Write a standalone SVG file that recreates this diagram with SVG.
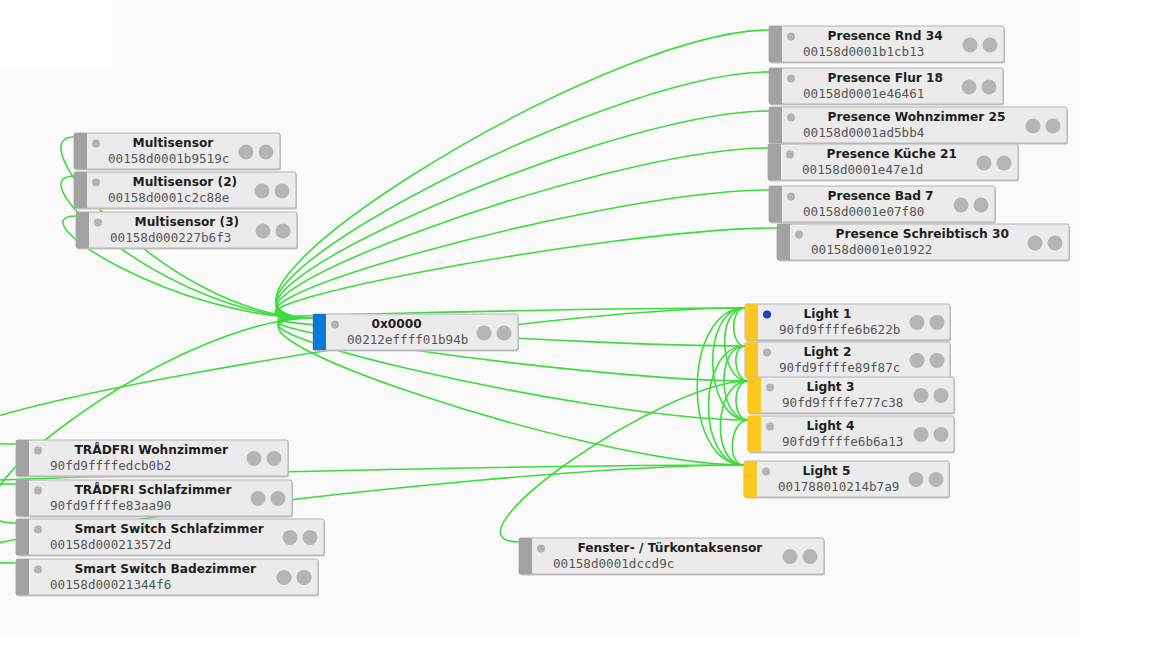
<svg xmlns="http://www.w3.org/2000/svg" width="1152" height="648" viewBox="0 0 1152 648">
<style>
.bg{fill:#fafafa}
.edge{fill:none;stroke:#3cdc3c;stroke-width:1.6}
.shadow{fill:#c4c4c4}
.box{fill:#ebebeb;stroke:#b4b4b4;stroke-width:1}
.bar{fill:#a2a2a2}
.bar.coord{fill:#0b79d6}
.bar.light{fill:#fcc81e}
.pin{fill:#b3b3b3}
.pin.on{fill:#1b3fcc}
.port{fill:#b5b5b5}
.name{font-family:"DejaVu Sans",Verdana,sans-serif;font-weight:bold;font-size:12.2px;fill:#1e1e1e}
.id{font-family:"DejaVu Sans Mono",monospace;font-size:12.6px;fill:#555}
</style>
<rect x="0" y="0" width="1152" height="648" fill="#ffffff"/>
<rect class="bg" x="0" y="0" width="1080" height="638"/>
<rect x="0" y="0" width="112" height="67" fill="#ffffff"/>
<g id="connectors">
<path class="edge" d="M 74 137 C 14 137, 173 318, 313 318"/>
<path class="edge" d="M 74 176 C 14 176, 173 318, 313 318"/>
<path class="edge" d="M 76 216 C 16 216, 173 318, 313 318"/>
<path class="edge" d="M 313 318 C 144 318, 600 30, 769 30"/>
<path class="edge" d="M 313 318 C 144 318, 600 72, 769 72"/>
<path class="edge" d="M 313 318 C 144 318, 600 111, 769 111"/>
<path class="edge" d="M 313 318 C 145 318, 600 148, 768 148"/>
<path class="edge" d="M 313 318 C 144 318, 600 190, 769 190"/>
<path class="edge" d="M 313 318 C 141 318, 605 228, 777 228"/>
<path class="edge" d="M 313 318 C 153 318, 585 308, 745 308"/>
<path class="edge" d="M 313 318 C 153 318, 585 346, 745 346"/>
<path class="edge" d="M 313 318 C 152 318, 587 381, 748 381"/>
<path class="edge" d="M 313 318 C 152 318, 587 420, 748 420"/>
<path class="edge" d="M 313 318 C 154 318, 585 465, 744 465"/>
<path class="edge" d="M 16 523 C -94 523, 173 318, 313 318"/>
<path class="edge" d="M 16 444 C -254 444, 475 308, 745 308"/>
<path class="edge" d="M 16 484 C -253 484, 475 465, 744 465"/>
<path class="edge" d="M 16 563 C -253 563, 475 465, 744 465"/>
<path class="edge" d="M 519 542 C 434 542, 663 381, 748 381"/>
<path class="edge" d="M 745 308 C 730 308, 730 346, 745 346"/>
<path class="edge" d="M 745 308 C 716 308, 719 381, 748 381"/>
<path class="edge" d="M 745 308 C 700 308, 703 420, 748 420"/>
<path class="edge" d="M 745 308 C 682 308, 681 465, 744 465"/>
<path class="edge" d="M 745 346 C 731 346, 734 381, 748 381"/>
<path class="edge" d="M 745 346 C 715 346, 718 420, 748 420"/>
<path class="edge" d="M 745 346 C 697 346, 696 465, 744 465"/>
<path class="edge" d="M 748 381 C 732 381, 732 420, 748 420"/>
<path class="edge" d="M 748 381 C 714 381, 710 465, 744 465"/>
<path class="edge" d="M 748 420 C 730 420, 726 465, 744 465"/>
</g>
<g id="multisensor" transform="translate(74,133)">
<rect class="shadow" x="1" y="1.5" width="206" height="36" rx="2"/><rect class="box" width="206" height="36" rx="2"/><rect class="bar" width="13" height="36"/>
<circle class="pin" cx="22" cy="10.5" r="4"/><circle class="port" cx="172" cy="19" r="7.5"/><circle class="port" cx="192" cy="19" r="7.5"/>
<text class="name" x="58.5" y="13.5">Multisensor</text><text class="id" x="34" y="30">00158d0001b9519c</text>
</g>
<g id="multisensor2" transform="translate(74,172)">
<rect class="shadow" x="1" y="1.5" width="222" height="36" rx="2"/><rect class="box" width="222" height="36" rx="2"/><rect class="bar" width="13" height="36"/>
<circle class="pin" cx="22" cy="10.5" r="4"/><circle class="port" cx="188" cy="19" r="7.5"/><circle class="port" cx="208" cy="19" r="7.5"/>
<text class="name" x="58.5" y="13.5">Multisensor (2)</text><text class="id" x="34" y="30">00158d0001c2c88e</text>
</g>
<g id="multisensor3" transform="translate(76,212)">
<rect class="shadow" x="1" y="1.5" width="221" height="36" rx="2"/><rect class="box" width="221" height="36" rx="2"/><rect class="bar" width="13" height="36"/>
<circle class="pin" cx="22" cy="10.5" r="4"/><circle class="port" cx="187" cy="19" r="7.5"/><circle class="port" cx="207" cy="19" r="7.5"/>
<text class="name" x="58.5" y="13.5">Multisensor (3)</text><text class="id" x="34" y="30">00158d000227b6f3</text>
</g>
<g id="coordinator" transform="translate(313,314)">
<rect class="shadow" x="1" y="1.5" width="205" height="36" rx="2"/><rect class="box" width="205" height="36" rx="2"/><rect class="bar coord" width="13" height="36"/>
<circle class="pin" cx="22" cy="10.5" r="4"/><circle class="port" cx="171" cy="19" r="7.5"/><circle class="port" cx="191" cy="19" r="7.5"/>
<text class="name" x="58.5" y="13.5">0x0000</text><text class="id" x="34" y="30">00212effff01b94b</text>
</g>
<g id="presence-rnd" transform="translate(769,26)">
<rect class="shadow" x="1" y="1.5" width="235" height="36" rx="2"/><rect class="box" width="235" height="36" rx="2"/><rect class="bar" width="13" height="36"/>
<circle class="pin" cx="22" cy="10.5" r="4"/><circle class="port" cx="201" cy="19" r="7.5"/><circle class="port" cx="221" cy="19" r="7.5"/>
<text class="name" x="58.5" y="13.5">Presence Rnd 34</text><text class="id" x="34" y="30">00158d0001b1cb13</text>
</g>
<g id="presence-flur" transform="translate(769,68)">
<rect class="shadow" x="1" y="1.5" width="234" height="36" rx="2"/><rect class="box" width="234" height="36" rx="2"/><rect class="bar" width="13" height="36"/>
<circle class="pin" cx="22" cy="10.5" r="4"/><circle class="port" cx="200" cy="19" r="7.5"/><circle class="port" cx="220" cy="19" r="7.5"/>
<text class="name" x="58.5" y="13.5">Presence Flur 18</text><text class="id" x="34" y="30">00158d0001e46461</text>
</g>
<g id="presence-wohnzimmer" transform="translate(769,107)">
<rect class="shadow" x="1" y="1.5" width="298" height="36" rx="2"/><rect class="box" width="298" height="36" rx="2"/><rect class="bar" width="13" height="36"/>
<circle class="pin" cx="22" cy="10.5" r="4"/><circle class="port" cx="264" cy="19" r="7.5"/><circle class="port" cx="284" cy="19" r="7.5"/>
<text class="name" x="58.5" y="13.5">Presence Wohnzimmer 25</text><text class="id" x="34" y="30">00158d0001ad5bb4</text>
</g>
<g id="presence-kueche" transform="translate(768,144)">
<rect class="shadow" x="1" y="1.5" width="250" height="36" rx="2"/><rect class="box" width="250" height="36" rx="2"/><rect class="bar" width="13" height="36"/>
<circle class="pin" cx="22" cy="10.5" r="4"/><circle class="port" cx="216" cy="19" r="7.5"/><circle class="port" cx="236" cy="19" r="7.5"/>
<text class="name" x="58.5" y="13.5">Presence Küche 21</text><text class="id" x="34" y="30">00158d0001e47e1d</text>
</g>
<g id="presence-bad" transform="translate(769,186)">
<rect class="shadow" x="1" y="1.5" width="226" height="36" rx="2"/><rect class="box" width="226" height="36" rx="2"/><rect class="bar" width="13" height="36"/>
<circle class="pin" cx="22" cy="10.5" r="4"/><circle class="port" cx="192" cy="19" r="7.5"/><circle class="port" cx="212" cy="19" r="7.5"/>
<text class="name" x="58.5" y="13.5">Presence Bad 7</text><text class="id" x="34" y="30">00158d0001e07f80</text>
</g>
<g id="presence-schreibtisch" transform="translate(777,224)">
<rect class="shadow" x="1" y="1.5" width="292" height="36" rx="2"/><rect class="box" width="292" height="36" rx="2"/><rect class="bar" width="13" height="36"/>
<circle class="pin" cx="22" cy="10.5" r="4"/><circle class="port" cx="258" cy="19" r="7.5"/><circle class="port" cx="278" cy="19" r="7.5"/>
<text class="name" x="58.5" y="13.5">Presence Schreibtisch 30</text><text class="id" x="34" y="30">00158d0001e01922</text>
</g>
<g id="light1" transform="translate(745,304)">
<rect class="shadow" x="1" y="1.5" width="205" height="36" rx="2"/><rect class="box" width="205" height="36" rx="2"/><rect class="bar light" width="13" height="36"/>
<circle class="pin on" cx="22" cy="10.5" r="4"/><circle class="port" cx="172" cy="18.5" r="7.5"/><circle class="port" cx="192" cy="18.5" r="7.5"/>
<text class="name" x="58.5" y="13.5">Light 1</text><text class="id" x="34" y="30">90fd9ffffe6b622b</text>
</g>
<g id="light2" transform="translate(745,342)">
<rect class="shadow" x="1" y="1.5" width="205" height="36" rx="2"/><rect class="box" width="205" height="36" rx="2"/><rect class="bar light" width="13" height="36"/>
<circle class="pin" cx="22" cy="10.5" r="4"/><circle class="port" cx="172" cy="18.5" r="7.5"/><circle class="port" cx="192" cy="18.5" r="7.5"/>
<text class="name" x="58.5" y="13.5">Light 2</text><text class="id" x="34" y="30">90fd9ffffe89f87c</text>
</g>
<g id="light3" transform="translate(748,377)">
<rect class="shadow" x="1" y="1.5" width="206" height="36" rx="2"/><rect class="box" width="206" height="36" rx="2"/><rect class="bar light" width="13" height="36"/>
<circle class="pin" cx="22" cy="10.5" r="4"/><circle class="port" cx="173" cy="18.5" r="7.5"/><circle class="port" cx="193" cy="18.5" r="7.5"/>
<text class="name" x="58.5" y="13.5">Light 3</text><text class="id" x="34" y="30">90fd9ffffe777c38</text>
</g>
<g id="light4" transform="translate(748,416)">
<rect class="shadow" x="1" y="1.5" width="206" height="36" rx="2"/><rect class="box" width="206" height="36" rx="2"/><rect class="bar light" width="13" height="36"/>
<circle class="pin" cx="22" cy="10.5" r="4"/><circle class="port" cx="173" cy="18.5" r="7.5"/><circle class="port" cx="193" cy="18.5" r="7.5"/>
<text class="name" x="58.5" y="13.5">Light 4</text><text class="id" x="34" y="30">90fd9ffffe6b6a13</text>
</g>
<g id="light5" transform="translate(744,461)">
<rect class="shadow" x="1" y="1.5" width="205" height="36" rx="2"/><rect class="box" width="205" height="36" rx="2"/><rect class="bar light" width="13" height="36"/>
<circle class="pin" cx="22" cy="10.5" r="4"/><circle class="port" cx="172" cy="18.5" r="7.5"/><circle class="port" cx="192" cy="18.5" r="7.5"/>
<text class="name" x="58.5" y="13.5">Light 5</text><text class="id" x="34" y="30">001788010214b7a9</text>
</g>
<g id="tradfri-wohnzimmer" transform="translate(16,440)">
<rect class="shadow" x="1" y="1.5" width="272" height="36" rx="2"/><rect class="box" width="272" height="36" rx="2"/><rect class="bar" width="13" height="36"/>
<circle class="pin" cx="22" cy="10.5" r="4"/><circle class="port" cx="238" cy="18.5" r="7.5"/><circle class="port" cx="258" cy="18.5" r="7.5"/>
<text class="name" x="58.5" y="13.5">TRÅDFRI Wohnzimmer</text><text class="id" x="34" y="30">90fd9ffffedcb0b2</text>
</g>
<g id="tradfri-schlafzimmer" transform="translate(16,480)">
<rect class="shadow" x="1" y="1.5" width="276" height="36" rx="2"/><rect class="box" width="276" height="36" rx="2"/><rect class="bar" width="13" height="36"/>
<circle class="pin" cx="22" cy="10.5" r="4"/><circle class="port" cx="242" cy="18.5" r="7.5"/><circle class="port" cx="262" cy="18.5" r="7.5"/>
<text class="name" x="58.5" y="13.5">TRÅDFRI Schlafzimmer</text><text class="id" x="34" y="30">90fd9ffffe83aa90</text>
</g>
<g id="smart-switch-schlafzimmer" transform="translate(16,519)">
<rect class="shadow" x="1" y="1.5" width="308" height="36" rx="2"/><rect class="box" width="308" height="36" rx="2"/><rect class="bar" width="13" height="36"/>
<circle class="pin" cx="22" cy="10.5" r="4"/><circle class="port" cx="274" cy="18.5" r="7.5"/><circle class="port" cx="294" cy="18.5" r="7.5"/>
<text class="name" x="58.5" y="13.5">Smart Switch Schlafzimmer</text><text class="id" x="34" y="30">00158d000213572d</text>
</g>
<g id="smart-switch-badezimmer" transform="translate(16,559)">
<rect class="shadow" x="1" y="1.5" width="302" height="36" rx="2"/><rect class="box" width="302" height="36" rx="2"/><rect class="bar" width="13" height="36"/>
<circle class="pin" cx="22" cy="10.5" r="4"/><circle class="port" cx="268" cy="18.5" r="7.5"/><circle class="port" cx="288" cy="18.5" r="7.5"/>
<text class="name" x="58.5" y="13.5">Smart Switch Badezimmer</text><text class="id" x="34" y="30">00158d00021344f6</text>
</g>
<g id="fenster-tuerkontaktsensor" transform="translate(519,538)">
<rect class="shadow" x="1" y="1.5" width="305" height="36" rx="2"/><rect class="box" width="305" height="36" rx="2"/><rect class="bar" width="13" height="36"/>
<circle class="pin" cx="22" cy="10.5" r="4"/><circle class="port" cx="271" cy="18.5" r="7.5"/><circle class="port" cx="291" cy="18.5" r="7.5"/>
<text class="name" x="58.5" y="13.5">Fenster- / Türkontaksensor</text><text class="id" x="34" y="30">00158d0001dccd9c</text>
</g>
</svg>
